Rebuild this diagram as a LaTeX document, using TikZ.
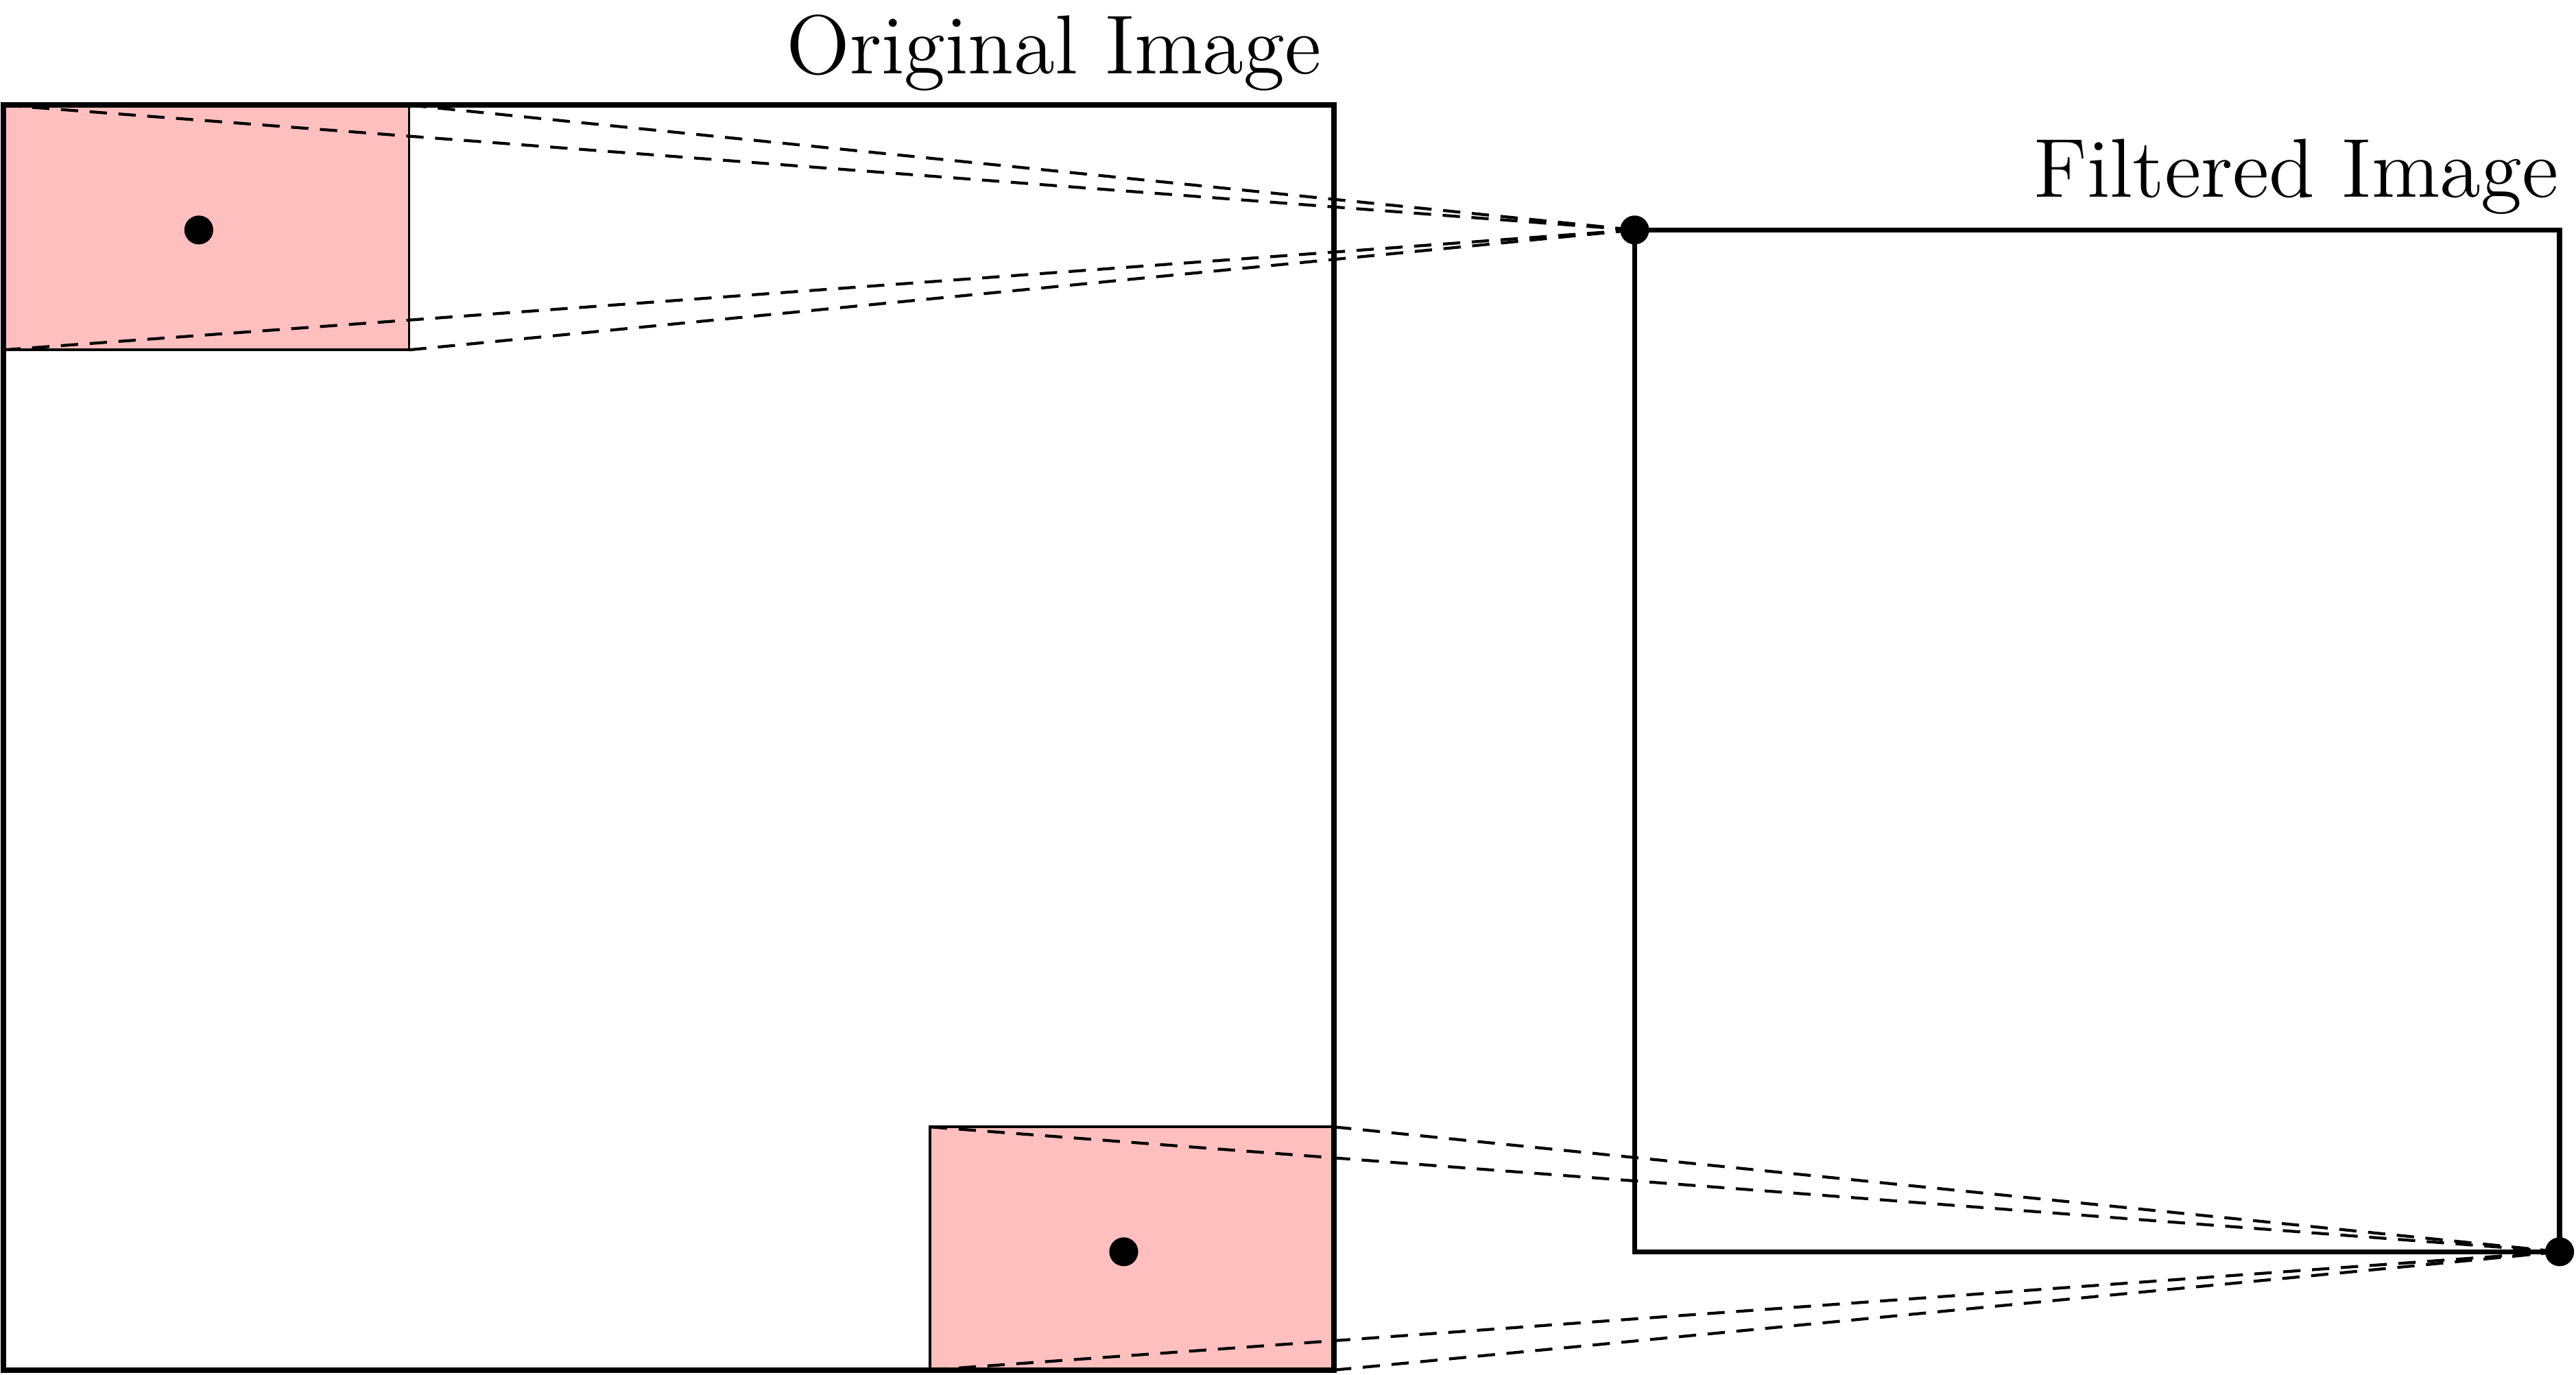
\documentclass[tikz,border=0pt]{standalone}
\usepackage{tikz}
\usetikzlibrary{calc,positioning}
\tikzset{
    frame/.style={draw, line width=0.9pt},
    patch/.style={draw, line width=0.45pt, fill=red!25},
    ray/.style={densely dashed, line width=0.5pt, dash pattern=on 3pt off 2pt},
    pix/.style={circle, fill, inner sep=0pt, minimum size=5pt},
    caption/.style={font=\fontsize{14.5}{17}\selectfont, inner sep=0pt}
}
\begin{document}
\begin{tikzpicture}
    \useasboundingbox (0,0) rectangle (15.68,8.37);
    % input image with the two windows
    \coordinate (orig_sw) at (0.02,0.03);
    \coordinate (orig_ne) at (8.12,7.73);
    \filldraw[patch] (0.02,6.24) rectangle (2.49,7.73);
    \filldraw[patch] (5.66,0.03) rectangle (8.12,1.51);
    \draw[frame] (orig_sw) rectangle (orig_ne);
    \node[pix] (win_top) at (1.21,6.97) {};
    \node[pix] (win_bot) at (6.84,0.75) {};
    \node[caption, anchor=base east] (orig_label) at (8.05,7.92) {Original Image};

    % output image
    \draw[frame] (9.95,0.75) rectangle (15.58,6.97);
    \node[pix] (out_top) at (9.95,6.97) {};
    \node[pix] (out_bot) at (15.58,0.75) {};
    \node[caption, anchor=base east] (filt_label) at (15.58,7.17) {Filtered Image};

    % rays from window corners
    \foreach \c in {(0.02,7.73),(2.49,7.73),(0.02,6.24),(2.49,6.24)}
        \draw[ray] \c -- (out_top.center);
    \foreach \c in {(5.66,1.51),(8.12,1.51),(5.66,0.03),(8.12,0.03)}
        \draw[ray] \c -- (out_bot.center);
\end{tikzpicture}
\end{document}
